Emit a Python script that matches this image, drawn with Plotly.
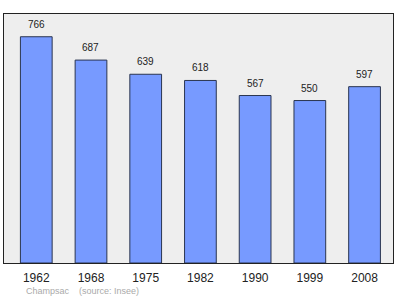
import plotly.graph_objects as go

years = ["1962", "1968", "1975", "1982", "1990", "1999", "2008"]
population = [766, 687, 639, 618, 567, 550, 597]
footer_text = "Champsac    (source: Insee)"

xs = list(range(len(years)))

fig = go.Figure()
fig.add_trace(go.Bar(
    x=xs, y=population, width=0.58,
    marker=dict(color="#779aff", line=dict(color="#2a3550", width=1)),
    hoverinfo="skip",
))
for x, v in zip(xs, population):
    fig.add_annotation(x=x, y=v, text=str(v), showarrow=False, yanchor="bottom",
                       yshift=5, font=dict(family="Liberation Sans", size=10, color="#222"))

fig.add_annotation(xref="paper", yref="paper", x=0.051, y=-0.112, xanchor="left", yanchor="middle",
                   text=footer_text, showarrow=False,
                   font=dict(family="Liberation Sans", size=9, color="#aaaaaa"))

fig.update_layout(
    width=400, height=299,
    margin=dict(l=4, r=7, t=14, b=36),
    paper_bgcolor="white", plot_bgcolor="#eeeeee",
    showlegend=False,
    xaxis=dict(range=[-0.59, 6.52], tickmode="array", tickvals=xs, ticktext=years,
               showgrid=False, zeroline=False, showline=True, linecolor="#222", linewidth=1,
               mirror=True, ticks="", ticklabelstandoff=4,
               tickfont=dict(family="Liberation Sans", size=12, color="#222"),
               fixedrange=True),
    yaxis=dict(range=[0, 843], showticklabels=False, showgrid=False, zeroline=False,
               showline=True, linecolor="#222", linewidth=1, mirror=True, ticks="",
               fixedrange=True),
)
fig.write_html("out.html")
